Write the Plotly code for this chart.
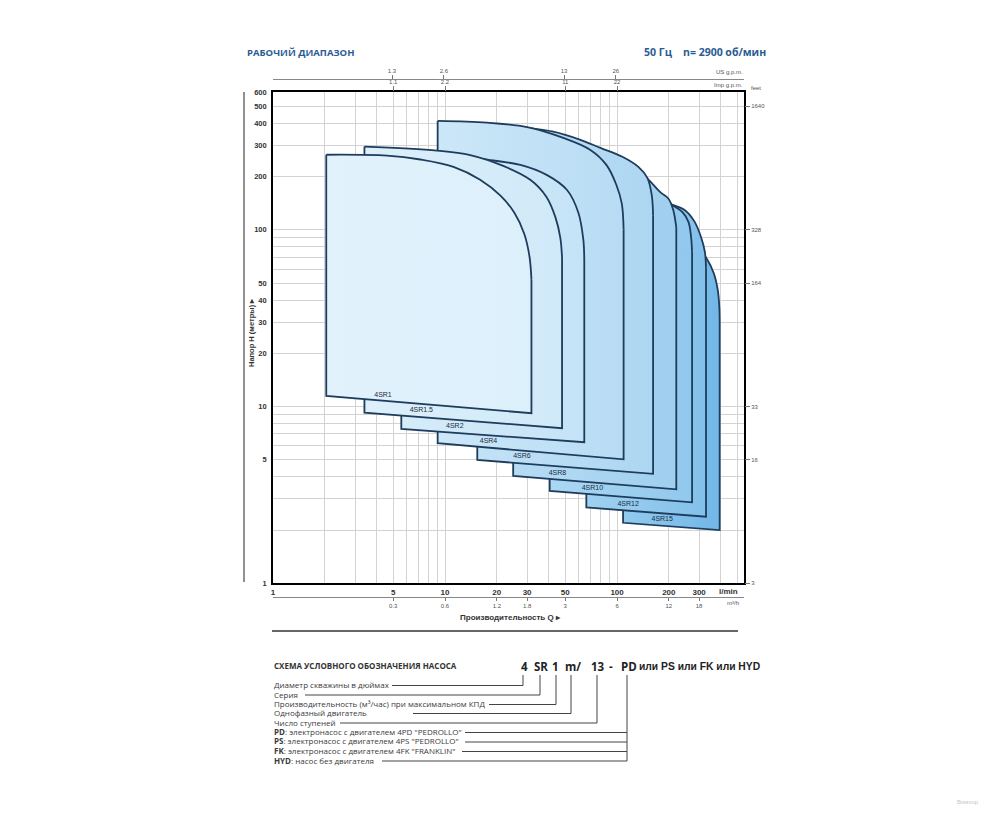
import plotly.graph_objects as go

# ---------------- data ----------------
pump_names = ["4SR15", "4SR12", "4SR10", "4SR8", "4SR6", "4SR4", "4SR2", "4SR1.5", "4SR1"]

# upper envelope: Q (l/min) and H (m) from Qmin (shut-off) to Qmax (right edge)
sr15_q = [108.4, 233, 305, 331, 365, 385, 393, 395]
sr15_h = [97.3, 85.4, 76.0, 69.1, 56.8, 45.7, 36.8, 30.1]
sr12_q = [66.3, 156, 204, 246, 281, 309, 324, 329]
sr12_h = [163, 156, 140, 130, 112, 90.0, 75.0, 60.9]
sr10_q = [40.6, 104.5, 179, 210, 240, 260, 269, 273]
sr10_h = [213, 187, 156, 138, 126, 111, 92.4, 75.0]
sr8_q = [24.9, 80.0, 119.5, 146, 179, 199, 212, 221]
sr8_h = [276, 249, 221, 199, 163, 150, 130, 103]
sr6_q = [15.4, 31.3, 42.6, 61.2, 80.0, 107.4, 133, 150, 159, 162]
sr6_h = [387, 375, 359, 323, 291, 259, 227, 197, 158, 121]
sr4_q = [9.06, 17.5, 30.0, 48.7, 70.0, 86.7, 99.0, 106.5, 109.2]
sr4_h = [413, 404, 381, 331, 283, 233, 180, 141, 100]
sr2_q = [5.57, 10.7, 16.7, 27.4, 39.2, 51.2, 59.6, 63.7, 64.5]
sr2_h = [272, 265, 251, 233, 204, 168, 125, 87.7, 65.8]
sr1_5_q = [3.40, 8.98, 14.0, 21.8, 31.3, 38.8, 43.8, 46.8, 47.9]
sr1_5_h = [296, 281, 265, 230, 192, 154, 118, 90.0, 69.3]
sr1_q = [2.04, 4.60, 7.19, 11.2, 16.0, 21.0, 25.3, 28.9, 31.0, 31.8]
sr1_h = [266, 263, 250, 227, 192, 156, 125, 94.8, 70.2, 52.1]

# lower boundary heads at Qmin and at Qmax (same order as pump_names)
h_low_left = [2.20, 2.69, 3.33, 4.05, 4.99, 6.20, 7.47, 9.24, 11.5]
h_low_right = [2.00, 2.38, 2.87, 3.40, 4.16, 5.03, 6.28, 7.54, 9.17]

# pump label positions
label_q = [183, 116, 71.9, 45.0, 28.0, 17.9, 11.4, 7.28, 4.36]
label_h = [2.31, 2.81, 3.46, 4.21, 5.21, 6.39, 7.77, 9.48, 11.6]

# axes
q_grid = [1, 2, 3, 4, 5, 6, 7, 8, 9, 10, 20, 30, 40, 50, 60, 70, 80, 90, 100, 200, 300, 400, 500]
q_labels = [1, 5, 10, 20, 30, 50, 100, 200, 300]
h_grid = [1, 2, 3, 4, 5, 6, 7, 8, 9, 10, 20, 30, 40, 50, 60, 70, 80, 90, 100, 200, 300, 400, 500, 600]
h_labels = [1, 5, 10, 20, 30, 40, 50, 100, 200, 300, 400, 500, 600]
feet_ticks_m = [1, 5, 10, 50, 100, 500]
m3h_ticks_lmin = [5, 10, 20, 30, 50, 100, 200, 300]
us_gpm = [1.3, 2.6, 13, 26]
imp_gpm = [1.1, 2.2, 11, 22]

# ---------------- styles ----------------
fill_left = ["#92caee", "#9fd1f0", "#abd7f2", "#b6dcf4", "#c2e2f6", "#cce7f8", "#d6ecf9", "#ddf0fb", "#e2f2fc"]
fill_right = ["#72b7e7", "#83c0ea", "#91c8ed", "#9fcfef", "#add6f2", "#b8dcf4", "#c5e3f7", "#d0e9f8", "#dcf0fb"]
outline = "#1e3c5c"
title_blue = "#2a5b95"
grid_col = "#d3d3d3"
txt = "#333333"
FONT = "Liberation Sans"
FONT2 = "Open Sans"

LPM_PER_US = 3.785
LPM_PER_IMP = 4.546
M3H_PER_LPM = 0.06
FT_PER_M = 3.281

tops_q = [sr15_q, sr12_q, sr10_q, sr8_q, sr6_q, sr4_q, sr2_q, sr1_5_q, sr1_q]
tops_h = [sr15_h, sr12_h, sr10_h, sr8_h, sr6_h, sr4_h, sr2_h, sr1_5_h, sr1_h]

# page is offset by the default 8px body margin
OFF = 8
FIG_W, FIG_H = 1000 - 2 * OFF, 819 - 2 * OFF
# paper box in page pixels
PL, PR, PT, PB = 273, 744, 79, 597
def px(x):
    return (x - PL) / (PR - PL)
def py(y):
    return (PB - y) / (PB - PT)

Y_TOP, Y_BOT = 92.3, 583.3
XMAX_LOG = 2.738
YMAX_LOG = 2.7782

fig = go.Figure()

for i, name in enumerate(pump_names):
    q = tops_q[i]
    h = tops_h[i]
    # left, bottom and right edges
    fig.add_trace(go.Scatter(
        x=[q[0], q[0], q[-1], q[-1]], y=[h[0], h_low_left[i], h_low_right[i], h[-1]],
        mode="lines", line=dict(color=outline, width=1.8),
        hoverinfo="skip", showlegend=False))
    # top curve, filled to the edges trace
    fig.add_trace(go.Scatter(
        x=q, y=h, mode="lines",
        line=dict(color=outline, width=1.8, shape="spline", smoothing=1.0),
        fill="tonexty", fillcolor=fill_right[i],
        fillgradient=dict(type="horizontal", start=q[0], stop=q[-1],
                          colorscale=[[0, fill_left[i]], [1, fill_right[i]]]),
        hoverinfo="skip", showlegend=False, name=name))

fig.add_trace(go.Scatter(
    x=label_q, y=label_h, text=pump_names, mode="text",
    textfont=dict(family=FONT, size=7, color="#1a2c40"),
    hoverinfo="skip", showlegend=False))

# invisible helpers so the extra axes are drawn
for xa in ["x2", "x3", "x4"]:
    fig.add_trace(go.Scatter(x=[q_grid[0], q_grid[-1]], y=[1, 1], xaxis=xa, yaxis="y",
                             mode="markers", marker=dict(opacity=0), hoverinfo="skip", showlegend=False))
fig.add_trace(go.Scatter(x=[1, 1], y=[h_grid[0], h_grid[-1]], xaxis="x", yaxis="y2",
                         mode="markers", marker=dict(opacity=0), hoverinfo="skip", showlegend=False))

ydom = [py(Y_BOT), py(Y_TOP)]

def fmt(v):
    return f"{v:g}"

fig.update_layout(
    width=FIG_W, height=FIG_H,
    margin=dict(l=PL - OFF, r=FIG_W - (PR - OFF), t=PT - OFF, b=FIG_H - (PB - OFF), pad=0),
    paper_bgcolor="white", plot_bgcolor="white",
    xaxis=dict(type="log", range=[0, XMAX_LOG], autorange=False, anchor="y",
               showline=True, linecolor="black", linewidth=1.6, mirror=True,
               tickmode="array", tickvals=q_grid,
               ticktext=[fmt(v) if v in q_labels else "" for v in q_grid],
               ticks="", showgrid=True, gridcolor=grid_col, gridwidth=0.8, zeroline=False,
               tickfont=dict(family=FONT, size=8, color=txt, weight="bold")),
    xaxis2=dict(type="log", range=[0, XMAX_LOG], autorange=False, overlaying="x", side="top",
                anchor="y", showline=False, showgrid=False, zeroline=False,
                tickmode="array", tickvals=[v * LPM_PER_IMP for v in imp_gpm],
                ticktext=[fmt(v) for v in imp_gpm], ticks="outside", ticklen=5,
                tickcolor="#777", tickwidth=0.8,
                tickfont=dict(family=FONT, size=6, color="#555")),
    xaxis3=dict(type="log", range=[0, XMAX_LOG], autorange=False, overlaying="x", side="top",
                anchor="free", position=1, showline=True, linecolor="#888", linewidth=0.8,
                showgrid=False, zeroline=False,
                tickmode="array", tickvals=[v * LPM_PER_US for v in us_gpm],
                ticktext=[fmt(v) for v in us_gpm], ticks="outside", ticklen=4,
                tickcolor="#777", tickwidth=0.8,
                tickfont=dict(family=FONT, size=6, color="#555")),
    xaxis4=dict(type="log", range=[0, XMAX_LOG], autorange=False, overlaying="x", side="bottom",
                anchor="free", position=0, showline=True, linecolor="#888", linewidth=0.8,
                showgrid=False, zeroline=False,
                tickmode="array", tickvals=m3h_ticks_lmin,
                ticktext=[fmt(round(v * M3H_PER_LPM, 2)) for v in m3h_ticks_lmin],
                ticks="outside", ticklen=3, tickcolor="#777", tickwidth=0.8,
                tickfont=dict(family=FONT, size=6, color="#555")),
    yaxis=dict(type="log", range=[0, YMAX_LOG], autorange=False, domain=ydom, anchor="x",
               showline=True, linecolor="black", linewidth=1.6, mirror=True,
               tickmode="array", tickvals=h_grid,
               ticktext=[fmt(v) if v in h_labels else "" for v in h_grid],
               ticks="", ticklabelstandoff=3, showgrid=True, gridcolor=grid_col, gridwidth=0.8,
               zeroline=False, tickfont=dict(family=FONT, size=7.5, color=txt, weight="bold")),
    yaxis2=dict(type="log", range=[0, YMAX_LOG], autorange=False, domain=ydom, overlaying="y",
                side="right", anchor="x", showgrid=False, zeroline=False, showline=False,
                tickmode="array", tickvals=feet_ticks_m,
                ticktext=[str(round(v * FT_PER_M)) for v in feet_ticks_m],
                ticks="outside", ticklen=5, tickcolor="#777", tickwidth=0.8,
                tickfont=dict(family=FONT, size=6, color="#555")),
)

annotations = []
def ann(text, x, y, size, color=txt, xanchor="left", yanchor="middle", family=FONT, angle=0):
    annotations.append(dict(text=text, x=px(x), y=py(y), xref="paper", yref="paper",
                            xanchor=xanchor, yanchor=yanchor, showarrow=False, textangle=angle,
                            font=dict(family=family, size=size, color=color)))

# header
ann("<b>РАБОЧИЙ ДИАПАЗОН</b>", 245, 52, 9.5, color=title_blue, family=FONT2)
ann("<b>50 Гц</b>", 642, 52, 10.5, color=title_blue, family=FONT2)
ann("<b>n= 2900 об/мин</b>", 768, 52, 10.5, color=title_blue, family=FONT2, xanchor="right")

# axis unit labels
ann("US g.p.m.", 745, 72, 6, color="#555", xanchor="right")
ann("Imp g.p.m.", 745, 85, 6, color="#555", xanchor="right")
ann("feet", 749, 88, 6, color="#555")
ann("<b>l/min</b>", 740, 591, 8, xanchor="right")
ann("m³/h", 741, 603, 6, color="#555", xanchor="right")
ann("<b>Производительность Q ▸</b>", 510, 617, 8, xanchor="center")
ann("<b>Напор H (метры) ▸</b>", 251, 333, 7.5, xanchor="center", angle=-90)

# designation scheme
ann("<b>СХЕМА УСЛОВНОГО ОБОЗНАЧЕНИЯ НАСОСА</b>", 272, 665, 8, family=FONT2)
code_parts = [("4", 524), ("SR", 540.5), ("1", 555.5), ("m/", 573), ("13", 597.5), ("-", 610.5), ("PD", 628.5)]
for t, x in code_parts:
    ann(f"<b>{t}</b>", x, 666, 11.5, color="#222", xanchor="center", family=FONT2)
ann("<b>или PS или FK или HYD</b>", 637, 666, 10.3, color="#222", family=FONT)

rows = [
    ("Диаметр скважины в дюймах", 684.5, 392, 523),
    ("Серия", 694, 305, 540),
    ("Производительность (м³/час) при максимальном КПД", 703.5, 489, 556),
    ("Однофазный двигатель", 712.5, 413, 571),
    ("Число ступеней", 722, 340, 597),
    ("<b>PD</b>: электронасос с двигателем 4PD \"PEDROLLO\"", 731.5, 465, 627),
    ("<b>PS</b>: электронасос с двигателем 4PS \"PEDROLLO\"", 741, 465, 627),
    ("<b>FK</b>: электронасос с двигателем 4FK \"FRANKLIN\"", 750.5, 462, 627),
    ("<b>HYD</b>: насос без двигателя", 760, 382, 627),
]
shapes = []
def pline(x0, y0, x1, y1, color="#444", width=1.0):
    shapes.append(dict(type="line", xref="paper", yref="paper", x0=px(x0), y0=py(y0),
                       x1=px(x1), y1=py(y1), line=dict(color=color, width=width)))

for text, y, xs, xe in rows:
    ann(text, 272, y, 8, color="#3a3a3a", family=FONT2)
    pline(xs, y + 1, xe, y + 1)
for xe, yb in [(523, 685.5), (540, 695), (556, 704.5), (571, 713.5), (597, 723), (627, 761)]:
    pline(xe, 675, xe, yb)

# frame decorations
pline(244, 92, 244, 582, color="#555", width=1.3)
pline(272, 631, 738, 631, color="#333", width=1.4)

ann("Вимхор", 968, 802, 6, color="#c8c8c8", xanchor="center")

fig.update_layout(annotations=annotations, shapes=shapes)
fig.write_html("out.html")
